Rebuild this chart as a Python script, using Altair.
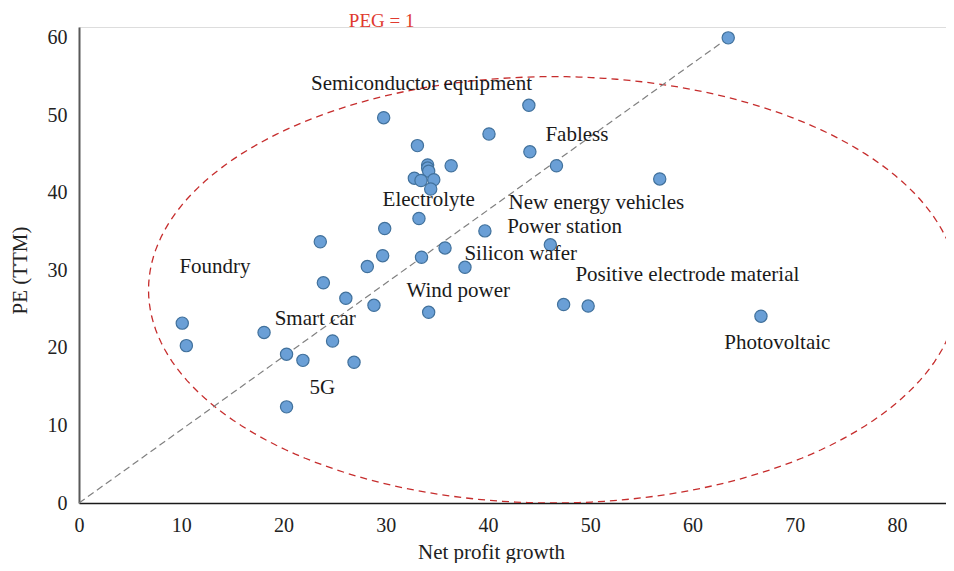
import math
import altair as alt
import pandas as pd

# ---- data ----
growth = [63.5, 29.8, 44.0, 40.1, 33.1, 44.1, 46.7, 36.4, 34.1, 34.1, 34.2, 32.8, 33.45,
          34.7, 34.4, 56.8, 33.25, 29.9, 23.6, 39.7, 29.7, 35.8, 33.5, 46.1, 28.2, 37.75,
          23.9, 26.1, 28.85, 34.2, 47.4, 49.8, 24.8, 21.9, 26.9, 10.1, 10.5, 18.1, 20.3,
          20.3, 66.7]
pe = [60.0, 49.7, 51.3, 47.6, 46.1, 45.3, 43.5, 43.5, 43.6, 43.2, 42.8, 41.9, 41.6,
      41.7, 40.5, 41.8, 36.7, 35.4, 33.7, 35.1, 31.9, 32.9, 31.7, 33.3, 30.5, 30.4,
      28.4, 26.4, 25.5, 24.6, 25.6, 25.4, 20.9, 18.4, 18.15, 23.2, 20.3, 22.0, 19.2,
      12.4, 24.1]

label_text = ["Semiconductor equipment", "Fabless", "Electrolyte", "New energy vehicles",
              "Power station", "Silicon wafer", "Positive electrode material", "Wind power",
              "Foundry", "Smart car", "5G", "Photovoltaic"]
label_x = [33.5, 48.7, 34.2, 50.6, 47.5, 43.2, 59.5, 37.1, 13.3, 23.1, 23.8, 68.3]
label_y = [54.1, 47.5, 39.1, 38.7, 35.65, 32.1, 29.4, 27.3, 30.5, 23.7, 14.8, 20.6]

peg_x = [0, 63.5]
peg_y = [0, 60.0]

ellipse_center = (46.4, 27.5)
ellipse_radii = (39.6, 27.5)

x_ticks = [0, 10, 20, 30, 40, 50, 60, 70, 80]
y_ticks = [0, 10, 20, 30, 40, 50, 60]

FONT = "Liberation Serif"
X_DOMAIN = [0, 84.8]
Y_DOMAIN = [0, 61.4]

pts = pd.DataFrame({"g": growth, "pe": pe})
labels = pd.DataFrame({"t": label_text, "x": label_x, "y": label_y})
peg = pd.DataFrame({"x": peg_x, "y": peg_y})
n = 200
ell = pd.DataFrame({
    "i": list(range(n + 1)),
    "x": [ellipse_center[0] + ellipse_radii[0] * math.cos(2 * math.pi * k / n) for k in range(n + 1)],
    "y": [ellipse_center[1] + ellipse_radii[1] * math.sin(2 * math.pi * k / n) for k in range(n + 1)],
})
title_df = pd.DataFrame({"t": ["PEG = 1"], "x": [29.6], "y": [61.35]})

xs = alt.Scale(domain=X_DOMAIN, nice=False, zero=False)
ys = alt.Scale(domain=Y_DOMAIN, nice=False, zero=False)

x_axis = alt.Axis(values=x_ticks, grid=False, ticks=False, domainColor="#1a1a1a", domainWidth=1.5,
                  labelFont=FONT, labelFontSize=20, labelColor="#222222", labelPadding=12,
                  labelFlush=False, title="Net profit growth", titleFont=FONT, titleFontSize=21,
                  titleFontWeight="normal", titleColor="#222222", titleX=412, titleY=55,
                  titleBaseline="alphabetic", titleAlign="center")
y_axis = alt.Axis(values=y_ticks, grid=False, ticks=False, domainColor="#595959", domainWidth=2,
                  labelFont=FONT, labelFontSize=20, labelColor="#222222", labelPadding=12,
                  labelFlush=False, title="PE (TTM)", titleFont=FONT, titleFontSize=21,
                  titleFontWeight="normal", titleColor="#222222", titleX=-59, titleY=243,
                  titleBaseline="middle", titleAlign="center", titleAngle=-90)

ellipse = alt.Chart(ell).mark_line(color="#C62D2D", strokeDash=[7, 5], strokeWidth=1.3, clip=True).encode(
    x=alt.X("x:Q", scale=xs, axis=x_axis),
    y=alt.Y("y:Q", scale=ys, axis=y_axis),
    order="i:Q",
)

diag = alt.Chart(peg).mark_line(color="#808080", strokeDash=[7, 4], strokeWidth=1.2).encode(
    x=alt.X("x:Q", scale=xs),
    y=alt.Y("y:Q", scale=ys),
)

points = alt.Chart(pts).mark_point(filled=True, shape="circle", size=150, fill="#6A9FD6",
                                   stroke="#41719C", strokeWidth=1.2, opacity=1).encode(
    x=alt.X("g:Q", scale=xs),
    y=alt.Y("pe:Q", scale=ys),
)

texts = alt.Chart(labels).mark_text(font=FONT, fontSize=21, color="#1a1a1a", align="center",
                                    baseline="middle").encode(
    x=alt.X("x:Q", scale=xs),
    y=alt.Y("y:Q", scale=ys),
    text="t:N",
)

peg_title = alt.Chart(title_df).mark_text(font=FONT, fontSize=19, color="#E03A2F", align="center",
                                          baseline="alphabetic").encode(
    x=alt.X("x:Q", scale=xs),
    y=alt.Y("y:Q", scale=ys),
    text="t:N",
)

chart = alt.layer(ellipse, diag, points, texts, peg_title).properties(
    width=867, height=476,
    autosize=alt.AutoSizeParams(type="none"),
    padding={"left": 71, "top": 19, "right": 0, "bottom": 60},
).configure_view(stroke=None).configure(background="white")

chart.save("out.html", embed_options={"renderer": "svg", "actions": False})
